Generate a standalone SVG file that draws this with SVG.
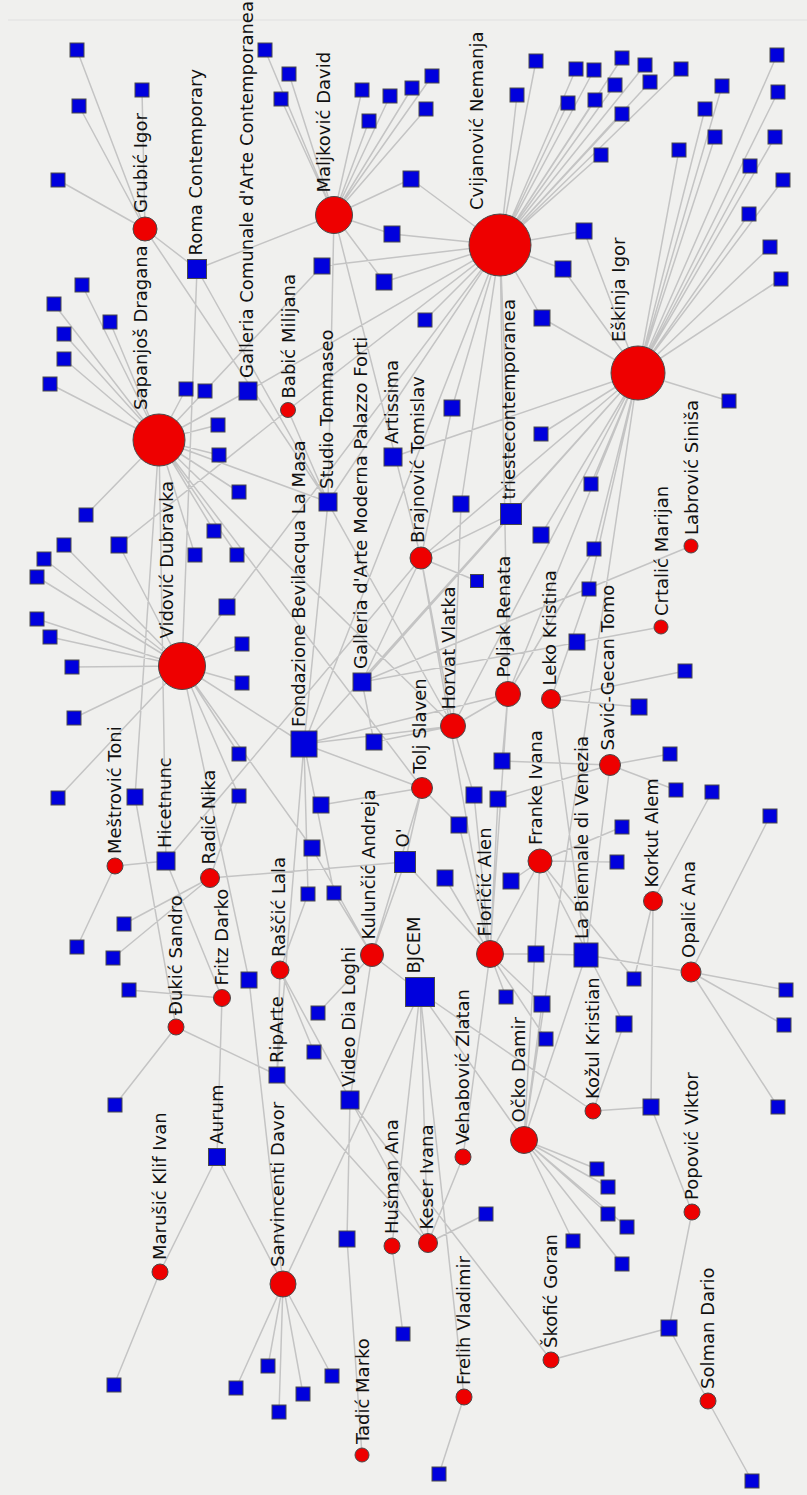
<svg xmlns="http://www.w3.org/2000/svg" width="807" height="1495" viewBox="0 0 807 1495">
<style>
.e{stroke:#c4c4c4;stroke-width:1.5;fill:none}
.c{fill:#ee0000;stroke:#4a4a4a;stroke-width:1}
.s{fill:#0000dd;stroke:#4a4a4a;stroke-width:1}
text{font-family:"DejaVu Sans","Liberation Sans",sans-serif;font-size:18px;fill:#111}
</style>
<rect width="807" height="1495" fill="#f0f0ee"/>
<line x1="8" y1="20" x2="807" y2="20" stroke="#e0e0e0" stroke-width="1"/>
<g id="edges">
<path class="e" d="M145,229L77,50M145,229L79,106M145,229L142,90M145,229L58,180M145,229L197,269M145,229L328,502
M197,269L334,215M197,269L182,666M197,269L453,726
M159,440L82,285M159,440L54,304M159,440L110,322M159,440L64,334M159,440L64,359M159,440L50,384M159,440L186,389M159,440L218,425M159,440L219,455M159,440L239,492M159,440L86,515M159,440L214,531M159,440L195,555M159,440L237,555M159,440L322,266M159,440L248,391M159,440L328,502M159,440L166,861M159,440L135,797M159,440L422,788M159,440L453,726
M334,215L265,50M334,215L289,74M334,215L281,99M334,215L362,90M334,215L390,96M334,215L412,88M334,215L432,76M334,215L369,121M334,215L426,109M334,215L411,179M334,215L392,234M334,215L384,282M334,215L328,502M334,215L421,558
M500,245L517,95M500,245L536,61M500,245L576,69M500,245L594,70M500,245L622,58M500,245L645,65M500,245L681,69M500,245L615,85M500,245L650,82M500,245L568,103M500,245L595,100M500,245L622,114M500,245L601,155M500,245L411,179M500,245L392,234M500,245L384,282M500,245L322,266M500,245L584,231M500,245L563,269M500,245L542,318M500,245L425,320M500,245L288,410M500,245L248,391M500,245L227,607M500,245L328,502M500,245L304,744M500,245L452,408M500,245L461,504M500,245L511,514M500,245L508,694
M638,373L777,55M638,373L722,86M638,373L778,92M638,373L705,109M638,373L715,137M638,373L775,137M638,373L679,150M638,373L750,166M638,373L783,180M638,373L749,214M638,373L770,247M638,373L781,279M638,373L729,401M638,373L584,231M638,373L563,269M638,373L542,318M638,373L541,434M638,373L541,535M638,373L591,484M638,373L594,549M638,373L589,589M638,373L393,457M638,373L511,514M638,373L362,682M638,373L304,744M638,373L421,558M638,373L524,1140M638,373L508,694M638,373L453,726
M288,410L328,502M288,410L119,545
M182,666L64,545M182,666L44,559M182,666L37,577M182,666L37,619M182,666L50,637M182,666L72,667M182,666L74,718M182,666L242,644M182,666L242,683M182,666L58,798M182,666L227,607M182,666L119,545M182,666L239,754M182,666L239,796M182,666L249,980M182,666L312,848M182,666L304,744
M249,980L283,1284
M421,558L511,514M421,558L452,408M421,558L477,581M421,558L490,954M421,558L453,726M421,558L362,682M421,558L166,861
M328,502L304,744
M362,682L374,742M362,682L661,627M362,682L691,546
M304,744L422,788M304,744L453,726M304,744L508,694M304,744L277,1075M304,744L308,894M304,744L334,893
M453,726L508,694M453,726L474,795M453,726L461,504M453,726L374,742
M508,694L502,761M508,694L490,954M508,694L594,549
M551,699L685,671M551,699L639,707M551,699L589,589M551,699L586,955
M610,765L670,754M610,765L676,790M610,765L502,761M610,765L498,799M610,765L586,955
M422,788L321,805M422,788L459,825M422,788L372,955M422,788L405,862
M115,866L166,861M115,866L77,947
M166,861L222,998
M210,878L405,862M210,878L124,924M210,878L113,958M210,878L239,796
M222,998L129,990M222,998L217,1157
M176,1027L135,797M176,1027L115,1105M176,1027L277,1075
M280,970L428,1243M280,970L277,1075M280,970L314,1052M280,970L308,894
M372,955L405,862M372,955L420,992M372,955L334,893M372,955L312,848M372,955L318,1013M372,955L350,1100
M405,862L490,954
M540,861L490,954M540,861L511,881M540,861L622,827M540,861L617,862M540,861L634,979M540,861L624,1024M540,861L524,1140
M653,901L712,792M653,901L634,979M653,901L651,1107
M490,954L536,954M490,954L459,825M490,954L445,878M490,954L506,997M490,954L542,1004M490,954L546,1039M490,954L463,1157M490,954L474,795M490,954L498,799
M586,955L536,954M586,955L691,972M586,955L524,1140
M691,972L770,816M691,972L786,990M691,972L784,1025M691,972L778,1107
M593,1111L624,1024M593,1111L651,1107M593,1111L420,992
M692,1212L651,1107M692,1212L669,1328
M669,1328L551,1360M669,1328L708,1401M708,1401L752,1481
M551,1360L350,1100
M524,1140L597,1169M524,1140L608,1187M524,1140L608,1214M524,1140L627,1227M524,1140L573,1241M524,1140L622,1264M524,1140L420,992M524,1140L542,1004
M420,992L283,1284M420,992L392,1246M420,992L428,1243M420,992L464,1397
M463,1157L428,1243M428,1243L486,1214M428,1243L277,1075
M283,1284L217,1157M283,1284L236,1388M283,1284L268,1366M283,1284L279,1412M283,1284L303,1394M283,1284L332,1376
M160,1272L217,1157M160,1272L114,1385
M392,1246L403,1334M347,1239L350,1100M347,1239L362,1455M464,1397L439,1474"/>
</g>
<g id="squares">
<g id="n1"><rect class="s" x="70" y="43" width="14" height="14"/></g>
<g id="n2"><rect class="s" x="72" y="99" width="14" height="14"/></g>
<g id="n3"><rect class="s" x="135" y="83" width="14" height="14"/></g>
<g id="n4"><rect class="s" x="51" y="173" width="14" height="14"/></g>
<g id="n5"><rect class="s" x="75" y="278" width="14" height="14"/></g>
<g id="n6"><rect class="s" x="47" y="297" width="14" height="14"/></g>
<g id="n7"><rect class="s" x="103" y="315" width="14" height="14"/></g>
<g id="n8"><rect class="s" x="57" y="327" width="14" height="14"/></g>
<g id="n9"><rect class="s" x="57" y="352" width="14" height="14"/></g>
<g id="n10"><rect class="s" x="43" y="377" width="14" height="14"/></g>
<g id="n11"><rect class="s" x="179" y="382" width="14" height="14"/></g>
<g id="n12"><rect class="s" x="198" y="384" width="14" height="14"/></g>
<g id="n13"><rect class="s" x="211" y="418" width="14" height="14"/></g>
<g id="n14"><rect class="s" x="212" y="448" width="14" height="14"/></g>
<g id="n15"><rect class="s" x="232" y="485" width="14" height="14"/></g>
<g id="n16"><rect class="s" x="79" y="508" width="14" height="14"/></g>
<g id="n17"><rect class="s" x="207" y="524" width="14" height="14"/></g>
<g id="n18"><rect class="s" x="57" y="538" width="14" height="14"/></g>
<g id="n19"><rect class="s" x="188" y="548" width="14" height="14"/></g>
<g id="n20"><rect class="s" x="230" y="548" width="14" height="14"/></g>
<g id="n21"><rect class="s" x="37" y="552" width="14" height="14"/></g>
<g id="n22"><rect class="s" x="30" y="570" width="14" height="14"/></g>
<g id="n23"><rect class="s" x="30" y="612" width="14" height="14"/></g>
<g id="n24"><rect class="s" x="43" y="630" width="14" height="14"/></g>
<g id="n25"><rect class="s" x="235" y="637" width="14" height="14"/></g>
<g id="n26"><rect class="s" x="65" y="660" width="14" height="14"/></g>
<g id="n27"><rect class="s" x="235" y="676" width="14" height="14"/></g>
<g id="n28"><rect class="s" x="67" y="711" width="14" height="14"/></g>
<g id="n29"><rect class="s" x="232" y="747" width="14" height="14"/></g>
<g id="n30"><rect class="s" x="51" y="791" width="14" height="14"/></g>
<g id="n31"><rect class="s" x="232" y="789" width="14" height="14"/></g>
<g id="n32"><rect class="s" x="117" y="917" width="14" height="14"/></g>
<g id="n33"><rect class="s" x="70" y="940" width="14" height="14"/></g>
<g id="n34"><rect class="s" x="106" y="951" width="14" height="14"/></g>
<g id="n35"><rect class="s" x="122" y="983" width="14" height="14"/></g>
<g id="n36"><rect class="s" x="108" y="1098" width="14" height="14"/></g>
<g id="n37"><rect class="s" x="258" y="43" width="14" height="14"/></g>
<g id="n38"><rect class="s" x="282" y="67" width="14" height="14"/></g>
<g id="n39"><rect class="s" x="274" y="92" width="14" height="14"/></g>
<g id="n40"><rect class="s" x="355" y="83" width="14" height="14"/></g>
<g id="n41"><rect class="s" x="383" y="89" width="14" height="14"/></g>
<g id="n42"><rect class="s" x="405" y="81" width="14" height="14"/></g>
<g id="n43"><rect class="s" x="425" y="69" width="14" height="14"/></g>
<g id="n44"><rect class="s" x="362" y="114" width="14" height="14"/></g>
<g id="n45"><rect class="s" x="419" y="102" width="14" height="14"/></g>
<g id="n46"><rect class="s" x="418" y="313" width="14" height="14"/></g>
<g id="n47"><rect class="s" x="510" y="88" width="14" height="14"/></g>
<g id="n48"><rect class="s" x="529" y="54" width="14" height="14"/></g>
<g id="n49"><rect class="s" x="569" y="62" width="14" height="14"/></g>
<g id="n50"><rect class="s" x="587" y="63" width="14" height="14"/></g>
<g id="n51"><rect class="s" x="615" y="51" width="14" height="14"/></g>
<g id="n52"><rect class="s" x="638" y="58" width="14" height="14"/></g>
<g id="n53"><rect class="s" x="674" y="62" width="14" height="14"/></g>
<g id="n54"><rect class="s" x="608" y="78" width="14" height="14"/></g>
<g id="n55"><rect class="s" x="643" y="75" width="14" height="14"/></g>
<g id="n56"><rect class="s" x="561" y="96" width="14" height="14"/></g>
<g id="n57"><rect class="s" x="588" y="93" width="14" height="14"/></g>
<g id="n58"><rect class="s" x="615" y="107" width="14" height="14"/></g>
<g id="n59"><rect class="s" x="594" y="148" width="14" height="14"/></g>
<g id="n60"><rect class="s" x="770" y="48" width="14" height="14"/></g>
<g id="n61"><rect class="s" x="715" y="79" width="14" height="14"/></g>
<g id="n62"><rect class="s" x="771" y="85" width="14" height="14"/></g>
<g id="n63"><rect class="s" x="698" y="102" width="14" height="14"/></g>
<g id="n64"><rect class="s" x="708" y="130" width="14" height="14"/></g>
<g id="n65"><rect class="s" x="768" y="130" width="14" height="14"/></g>
<g id="n66"><rect class="s" x="672" y="143" width="14" height="14"/></g>
<g id="n67"><rect class="s" x="743" y="159" width="14" height="14"/></g>
<g id="n68"><rect class="s" x="776" y="173" width="14" height="14"/></g>
<g id="n69"><rect class="s" x="742" y="207" width="14" height="14"/></g>
<g id="n70"><rect class="s" x="763" y="240" width="14" height="14"/></g>
<g id="n71"><rect class="s" x="774" y="272" width="14" height="14"/></g>
<g id="n72"><rect class="s" x="722" y="394" width="14" height="14"/></g>
<g id="n73"><rect class="s" x="534" y="427" width="14" height="14"/></g>
<g id="n74"><rect class="s" x="584" y="477" width="14" height="14"/></g>
<g id="n75"><rect class="s" x="587" y="542" width="14" height="14"/></g>
<g id="n76"><rect class="s" x="582" y="582" width="14" height="14"/></g>
<g id="n77"><rect class="s" x="470.5" y="574.5" width="13" height="13"/></g>
<g id="n78"><rect class="s" x="678" y="664" width="14" height="14"/></g>
<g id="n79"><rect class="s" x="663" y="747" width="14" height="14"/></g>
<g id="n80"><rect class="s" x="669" y="783" width="14" height="14"/></g>
<g id="n81"><rect class="s" x="705" y="785" width="14" height="14"/></g>
<g id="n82"><rect class="s" x="763" y="809" width="14" height="14"/></g>
<g id="n83"><rect class="s" x="615" y="820" width="14" height="14"/></g>
<g id="n84"><rect class="s" x="610" y="855" width="14" height="14"/></g>
<g id="n85"><rect class="s" x="627" y="972" width="14" height="14"/></g>
<g id="n86"><rect class="s" x="779" y="983" width="14" height="14"/></g>
<g id="n87"><rect class="s" x="777" y="1018" width="14" height="14"/></g>
<g id="n88"><rect class="s" x="771" y="1100" width="14" height="14"/></g>
<g id="n89"><rect class="s" x="301" y="887" width="14" height="14"/></g>
<g id="n90"><rect class="s" x="327" y="886" width="14" height="14"/></g>
<g id="n91"><rect class="s" x="311" y="1006" width="14" height="14"/></g>
<g id="n92"><rect class="s" x="307" y="1045" width="14" height="14"/></g>
<g id="n93"><rect class="s" x="499" y="990" width="14" height="14"/></g>
<g id="n94"><rect class="s" x="539" y="1032" width="14" height="14"/></g>
<g id="n95"><rect class="s" x="479" y="1207" width="14" height="14"/></g>
<g id="n96"><rect class="s" x="396" y="1327" width="14" height="14"/></g>
<g id="n97"><rect class="s" x="261" y="1359" width="14" height="14"/></g>
<g id="n98"><rect class="s" x="296" y="1387" width="14" height="14"/></g>
<g id="n99"><rect class="s" x="272" y="1405" width="14" height="14"/></g>
<g id="n100"><rect class="s" x="325" y="1369" width="14" height="14"/></g>
<g id="n101"><rect class="s" x="229" y="1381" width="14" height="14"/></g>
<g id="n102"><rect class="s" x="107" y="1378" width="14" height="14"/></g>
<g id="n103"><rect class="s" x="432" y="1467" width="14" height="14"/></g>
<g id="n104"><rect class="s" x="590" y="1162" width="14" height="14"/></g>
<g id="n105"><rect class="s" x="601" y="1180" width="14" height="14"/></g>
<g id="n106"><rect class="s" x="601" y="1207" width="14" height="14"/></g>
<g id="n107"><rect class="s" x="620" y="1220" width="14" height="14"/></g>
<g id="n108"><rect class="s" x="566" y="1234" width="14" height="14"/></g>
<g id="n109"><rect class="s" x="615" y="1257" width="14" height="14"/></g>
<g id="n110"><rect class="s" x="745" y="1474" width="14" height="14"/></g>
<g id="m1"><rect class="s" x="403" y="171" width="16" height="16"/></g>
<g id="m2"><rect class="s" x="384" y="226" width="16" height="16"/></g>
<g id="m3"><rect class="s" x="314" y="258" width="16" height="16"/></g>
<g id="m4"><rect class="s" x="376" y="274" width="16" height="16"/></g>
<g id="m5"><rect class="s" x="576" y="223" width="16" height="16"/></g>
<g id="m6"><rect class="s" x="555" y="261" width="16" height="16"/></g>
<g id="m7"><rect class="s" x="534" y="310" width="16" height="16"/></g>
<g id="m8"><rect class="s" x="444" y="400" width="16" height="16"/></g>
<g id="m9"><rect class="s" x="453" y="496" width="16" height="16"/></g>
<g id="m10"><rect class="s" x="533" y="527" width="16" height="16"/></g>
<g id="m11"><rect class="s" x="111" y="537" width="16" height="16"/></g>
<g id="m12"><rect class="s" x="219" y="599" width="16" height="16"/></g>
<g id="m13"><rect class="s" x="569" y="634" width="16" height="16"/></g>
<g id="m14"><rect class="s" x="631" y="699" width="16" height="16"/></g>
<g id="m15"><rect class="s" x="366" y="734" width="16" height="16"/></g>
<g id="m16"><rect class="s" x="127" y="789" width="16" height="16"/></g>
<g id="m17"><rect class="s" x="313" y="797" width="16" height="16"/></g>
<g id="m18"><rect class="s" x="304" y="840" width="16" height="16"/></g>
<g id="m19"><rect class="s" x="494" y="753" width="16" height="16"/></g>
<g id="m20"><rect class="s" x="466" y="787" width="16" height="16"/></g>
<g id="m21"><rect class="s" x="490" y="791" width="16" height="16"/></g>
<g id="m22"><rect class="s" x="451" y="817" width="16" height="16"/></g>
<g id="m23"><rect class="s" x="437" y="870" width="16" height="16"/></g>
<g id="m24"><rect class="s" x="503" y="873" width="16" height="16"/></g>
<g id="m25"><rect class="s" x="241" y="972" width="16" height="16"/></g>
<g id="m26"><rect class="s" x="528" y="946" width="16" height="16"/></g>
<g id="m27"><rect class="s" x="534" y="996" width="16" height="16"/></g>
<g id="m28"><rect class="s" x="616" y="1016" width="16" height="16"/></g>
<g id="m29"><rect class="s" x="643" y="1099" width="16" height="16"/></g>
<g id="m30"><rect class="s" x="339" y="1231" width="16" height="16"/></g>
<g id="m31"><rect class="s" x="661" y="1320" width="16" height="16"/></g>
</g>
<g id="n-roma"><rect class="s" x="187.5" y="259.5" width="19" height="19"/><text transform="translate(201.5,255.5) rotate(-90)">Roma Contemporary</text></g>
<g id="n-gcomunale"><rect class="s" x="239" y="382" width="18" height="18"/><text transform="translate(253,378) rotate(-90)">Galleria Comunale d'Arte Contemporanea</text></g>
<g id="n-studio"><rect class="s" x="319" y="493" width="18" height="18"/><text transform="translate(333,489) rotate(-90)">Studio Tommaseo</text></g>
<g id="n-gmoderna"><rect class="s" x="353" y="673" width="18" height="18"/><text transform="translate(367,669) rotate(-90)">Galleria d'Arte Moderna Palazzo Forti</text></g>
<g id="n-artissima"><rect class="s" x="384" y="448" width="18" height="18"/><text transform="translate(398,444) rotate(-90)">Artissima</text></g>
<g id="n-trieste"><rect class="s" x="500.5" y="503.5" width="21" height="21"/><text transform="translate(514.5,499.5) rotate(-90)">triestecontemporanea</text></g>
<g id="n-fondazione"><rect class="s" x="291" y="731" width="26" height="26"/><text transform="translate(305,727) rotate(-90)">Fondazione Bevilacqua La Masa</text></g>
<g id="n-hicetnunc"><rect class="s" x="157" y="852" width="18" height="18"/><text transform="translate(171,848) rotate(-90)">Hicetnunc</text></g>
<g id="n-o"><rect class="s" x="394.5" y="851.5" width="21" height="21"/><text transform="translate(408.5,847.5) rotate(-90)">O'</text></g>
<g id="n-biennale"><rect class="s" x="574" y="943" width="24" height="24"/><text transform="translate(588,939) rotate(-90)">La Biennale di Venezia</text></g>
<g id="n-bjcem"><rect class="s" x="405.5" y="977.5" width="29" height="29"/><text transform="translate(419.5,973.5) rotate(-90)">BJCEM</text></g>
<g id="n-riparte"><rect class="s" x="269" y="1067" width="16" height="16"/><text transform="translate(283,1063) rotate(-90)">RipArte</text></g>
<g id="n-videodia"><rect class="s" x="341" y="1091" width="18" height="18"/><text transform="translate(355,1087) rotate(-90)">Video Dia Loghi</text></g>
<g id="n-aurum"><rect class="s" x="208.5" y="1148.5" width="17" height="17"/><text transform="translate(222.5,1144.5) rotate(-90)">Aurum</text></g>
<g id="n-grubic"><circle class="c" cx="145" cy="229" r="12"/><text transform="translate(147,213) rotate(-90)">Grubić Igor</text></g>
<g id="n-maljk"><circle class="c" cx="334" cy="215" r="18.5"/><text transform="translate(329.5,192.5) rotate(-90)">Maljković David</text></g>
<g id="n-cvij"><circle class="c" cx="500" cy="245" r="31"/><text transform="translate(483,210) rotate(-90)">Cvijanović Nemanja</text></g>
<g id="n-esk"><circle class="c" cx="638" cy="373" r="27"/><text transform="translate(625,342) rotate(-90)">Eškinja Igor</text></g>
<g id="n-sapan"><circle class="c" cx="159" cy="440" r="26"/><text transform="translate(147,410) rotate(-90)">Sapanjoš Dragana</text></g>
<g id="n-babic"><circle class="c" cx="288" cy="410" r="7.5"/><text transform="translate(294.5,398.5) rotate(-90)">Babić Milijana</text></g>
<g id="n-brajn"><circle class="c" cx="421" cy="558" r="11"/><text transform="translate(424,543) rotate(-90)">Brajnović Tomislav</text></g>
<g id="n-vidov"><circle class="c" cx="182" cy="666" r="23.5"/><text transform="translate(172.5,638.5) rotate(-90)">Vidović Dubravka</text></g>
<g id="n-horvat"><circle class="c" cx="453" cy="726" r="12.5"/><text transform="translate(454.5,709.5) rotate(-90)">Horvat Vlatka</text></g>
<g id="n-poljak"><circle class="c" cx="508" cy="694" r="12.5"/><text transform="translate(509.5,677.5) rotate(-90)">Poljak Renata</text></g>
<g id="n-leko"><circle class="c" cx="551" cy="699" r="9.5"/><text transform="translate(555.5,685.5) rotate(-90)">Leko Kristina</text></g>
<g id="n-savic"><circle class="c" cx="610" cy="765" r="10.5"/><text transform="translate(613.5,750.5) rotate(-90)">Savić-Gecan Tomo</text></g>
<g id="n-crtalic"><circle class="c" cx="661" cy="627" r="7"/><text transform="translate(668,616) rotate(-90)">Crtalić Marijan</text></g>
<g id="n-labrovic"><circle class="c" cx="691" cy="546" r="7"/><text transform="translate(698,535) rotate(-90)">Labrović Siniša</text></g>
<g id="n-tolj"><circle class="c" cx="422" cy="788" r="10.5"/><text transform="translate(425.5,773.5) rotate(-90)">Tolj Slaven</text></g>
<g id="n-mestrovic"><circle class="c" cx="115" cy="866" r="8"/><text transform="translate(121,854) rotate(-90)">Meštrović Toni</text></g>
<g id="n-radic"><circle class="c" cx="210" cy="878" r="9.5"/><text transform="translate(214.5,864.5) rotate(-90)">Radić Nika</text></g>
<g id="n-fritz"><circle class="c" cx="222" cy="998" r="8.5"/><text transform="translate(227.5,985.5) rotate(-90)">Fritz Darko</text></g>
<g id="n-dukic"><circle class="c" cx="176" cy="1027" r="8"/><text transform="translate(182,1015) rotate(-90)">Đukić Sandro</text></g>
<g id="n-rascic"><circle class="c" cx="280" cy="970" r="9"/><text transform="translate(285,957) rotate(-90)">Raščić Lala</text></g>
<g id="n-kulun"><circle class="c" cx="372" cy="955" r="11.5"/><text transform="translate(374.5,939.5) rotate(-90)">Kulunčić Andreja</text></g>
<g id="n-franke"><circle class="c" cx="540" cy="861" r="12"/><text transform="translate(542,845) rotate(-90)">Franke Ivana</text></g>
<g id="n-korkut"><circle class="c" cx="653" cy="901" r="9.5"/><text transform="translate(657.5,887.5) rotate(-90)">Korkut Alem</text></g>
<g id="n-floricic"><circle class="c" cx="490" cy="954" r="13.5"/><text transform="translate(490.5,936.5) rotate(-90)">Floričić Alen</text></g>
<g id="n-opalic"><circle class="c" cx="691" cy="972" r="10"/><text transform="translate(695,958) rotate(-90)">Opalić Ana</text></g>
<g id="n-vehab"><circle class="c" cx="463" cy="1157" r="8"/><text transform="translate(469,1145) rotate(-90)">Vehabović Zlatan</text></g>
<g id="n-ocko"><circle class="c" cx="524" cy="1140" r="13.5"/><text transform="translate(524.5,1122.5) rotate(-90)">Očko Damir</text></g>
<g id="n-kozul"><circle class="c" cx="593" cy="1111" r="8"/><text transform="translate(599,1099) rotate(-90)">Kožul Kristian</text></g>
<g id="n-popovic"><circle class="c" cx="692" cy="1212" r="8"/><text transform="translate(698,1200) rotate(-90)">Popović Viktor</text></g>
<g id="n-marusic"><circle class="c" cx="160" cy="1272" r="8"/><text transform="translate(166,1260) rotate(-90)">Marušić Klif Ivan</text></g>
<g id="n-sanvin"><circle class="c" cx="283" cy="1284" r="13"/><text transform="translate(284,1267) rotate(-90)">Sanvincenti Davor</text></g>
<g id="n-husman"><circle class="c" cx="392" cy="1246" r="8"/><text transform="translate(398,1234) rotate(-90)">Hušman Ana</text></g>
<g id="n-keser"><circle class="c" cx="428" cy="1243" r="9.5"/><text transform="translate(432.5,1229.5) rotate(-90)">Keser Ivana</text></g>
<g id="n-frelih"><circle class="c" cx="464" cy="1397" r="8"/><text transform="translate(470,1385) rotate(-90)">Frelih Vladimir</text></g>
<g id="n-tadic"><circle class="c" cx="362" cy="1455" r="7"/><text transform="translate(369,1444) rotate(-90)">Tadić Marko</text></g>
<g id="n-skofic"><circle class="c" cx="551" cy="1360" r="8"/><text transform="translate(557,1348) rotate(-90)">Škofić Goran</text></g>
<g id="n-solman"><circle class="c" cx="708" cy="1401" r="8"/><text transform="translate(714,1389) rotate(-90)">Solman Dario</text></g>
</svg>
